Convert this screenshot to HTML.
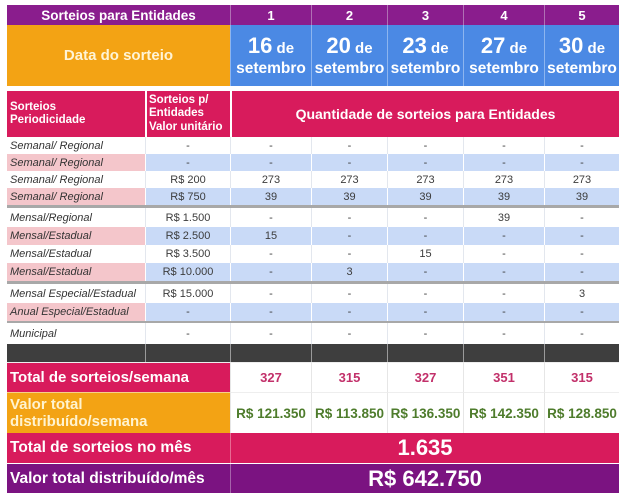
<!DOCTYPE html>
<html><head><meta charset="utf-8">
<style>
body{margin:0;width:640px;height:498px;background:#fff;position:relative;overflow:hidden;font-family:"Liberation Sans",sans-serif}
.r{position:absolute;left:0;width:640px}
.r>div{position:absolute;top:0;height:100%;display:flex;align-items:center;justify-content:center;box-sizing:border-box;white-space:nowrap}
.c1{left:7px;width:138px}
.c2{left:145px;width:85px}
.c3{left:230px;width:81px}
.c4{left:311px;width:76px}
.c5{left:387px;width:76px}
.c6{left:463px;width:81px}
.c7{left:544px;width:75px}
.c12{left:7px;width:223px}
.c37{left:230px;width:389px}
.h1>div{background:#8a1d8d;color:#fff;font-weight:bold;font-size:13px;border-left:1px solid #b070b4}
.h1>.c12{font-size:13.5px;border-left:none}
.h2>div{background:#4b89e4;color:#fff;font-weight:bold;flex-direction:column;border-left:1px solid #8db5ef}
.h2>.c12{background:#f3a314;color:#fff4d6;font-size:15px;border-left:none}
.h2 .a{font-size:15px;line-height:26px;height:26px}
.h2 .a b{font-size:22px}
.h2 .s{font-size:15.5px;line-height:20px}
.h3>div{background:#d81b5c;color:#fff;font-weight:bold;border-left:2px solid #fff}
.h3>.c1{border-left:none;justify-content:flex-start;padding-left:3px;font-size:11.5px;line-height:13px}
.h3>.c2{justify-content:flex-start;padding-left:2px;font-size:11.5px;line-height:13.5px}
.h3>.c37{font-size:14px}
.d>div{font-size:11px;color:#3c3c3c;border-left:1px solid #e3e7ee}
.d>.c1{justify-content:flex-start;padding-left:3px;font-style:italic;border-left:none;color:#333}
.b>div{background:#c9daf7;border-left:1px solid #fff}
.b>.c1{background:#f4c6cb}
.m{color:#777;font-size:10px}
.sep{position:absolute;left:7px;width:612px;height:3px;background:#a8a8a8}
.dk>div{background:#3e3e3e;border-left:1px solid #9a9a9a}
.dk>.c1{border-left:none}
.t>div{font-weight:bold;border-left:1px solid #e6e6e6;background:#fff}
.t>.c12{justify-content:flex-start;padding-left:3px;color:#fff;font-size:15px;border-left:none}
.tot>div{color:#c2306a;font-size:13px;border-top:1px solid #eee}
.tot>.c12{background:#d81b5c;color:#fff}
.val>div{color:#4e7c2c;font-size:13.5px;border-top:1px solid #eee}
.val>.c12{background:#f3a314;color:#fff3cf;line-height:17px;border-top:1px solid #f7d08a}
.big>div{color:#fff;font-weight:bold}
.big>.c12{justify-content:flex-start;padding-left:3px;font-size:15.5px}
</style></head><body>

<div class="r h1" style="top:5px;height:20px">
<div class="c12">Sorteios para Entidades</div>
<div class="c3">1</div><div class="c4">2</div><div class="c5">3</div><div class="c6">4</div><div class="c7">5</div>
</div>

<div class="r h2" style="top:25px;height:61px">
<div class="c12">Data do sorteio</div>
<div class="c3"><span class="a"><b>16</b> de</span><span class="s">setembro</span></div>
<div class="c4"><span class="a"><b>20</b> de</span><span class="s">setembro</span></div>
<div class="c5"><span class="a"><b>23</b> de</span><span class="s">setembro</span></div>
<div class="c6"><span class="a"><b>27</b> de</span><span class="s">setembro</span></div>
<div class="c7"><span class="a"><b>30</b> de</span><span class="s">setembro</span></div>
</div>

<div class="r h3" style="top:91px;height:46px">
<div class="c1">Sorteios<br>Periodicidade</div>
<div class="c2">Sorteios p/<br>Entidades<br>Valor unitário</div>
<div class="c37">Quantidade de sorteios para Entidades</div>
</div>

<div class="r d" style="top:137px;height:17px">
<div class="c1">Semanal/ Regional</div><div class="c2 m">-</div>
<div class="c3 m">-</div><div class="c4 m">-</div><div class="c5 m">-</div><div class="c6 m">-</div><div class="c7 m">-</div>
</div>
<div class="r d b" style="top:154px;height:17px">
<div class="c1">Semanal/ Regional</div><div class="c2 m">-</div>
<div class="c3 m">-</div><div class="c4 m">-</div><div class="c5 m">-</div><div class="c6 m">-</div><div class="c7 m">-</div>
</div>
<div class="r d" style="top:171px;height:17px">
<div class="c1">Semanal/ Regional</div><div class="c2">R$ 200</div>
<div class="c3">273</div><div class="c4">273</div><div class="c5">273</div><div class="c6">273</div><div class="c7">273</div>
</div>
<div class="r d b" style="top:188px;height:17px">
<div class="c1">Semanal/ Regional</div><div class="c2">R$ 750</div>
<div class="c3">39</div><div class="c4">39</div><div class="c5">39</div><div class="c6">39</div><div class="c7">39</div>
</div>
<div class="sep" style="top:205px"></div>
<div class="r d" style="top:208px;height:19px">
<div class="c1">Mensal/Regional</div><div class="c2">R$ 1.500</div>
<div class="c3 m">-</div><div class="c4 m">-</div><div class="c5 m">-</div><div class="c6">39</div><div class="c7 m">-</div>
</div>
<div class="r d b" style="top:227px;height:18px">
<div class="c1">Mensal/Estadual</div><div class="c2">R$ 2.500</div>
<div class="c3">15</div><div class="c4 m">-</div><div class="c5 m">-</div><div class="c6 m">-</div><div class="c7 m">-</div>
</div>
<div class="r d" style="top:245px;height:18px">
<div class="c1">Mensal/Estadual</div><div class="c2">R$ 3.500</div>
<div class="c3 m">-</div><div class="c4 m">-</div><div class="c5">15</div><div class="c6 m">-</div><div class="c7 m">-</div>
</div>
<div class="r d b" style="top:263px;height:18px">
<div class="c1">Mensal/Estadual</div><div class="c2">R$ 10.000</div>
<div class="c3 m">-</div><div class="c4">3</div><div class="c5 m">-</div><div class="c6 m">-</div><div class="c7 m">-</div>
</div>
<div class="sep" style="top:281px"></div>
<div class="r d" style="top:284px;height:19px">
<div class="c1">Mensal Especial/Estadual</div><div class="c2">R$ 15.000</div>
<div class="c3 m">-</div><div class="c4 m">-</div><div class="c5 m">-</div><div class="c6 m">-</div><div class="c7">3</div>
</div>
<div class="r d b" style="top:303px;height:18px">
<div class="c1">Anual Especial/Estadual</div><div class="c2 m">-</div>
<div class="c3 m">-</div><div class="c4 m">-</div><div class="c5 m">-</div><div class="c6 m">-</div><div class="c7 m">-</div>
</div>
<div class="sep" style="top:321px;height:2px"></div>
<div class="r d" style="top:323px;height:21px">
<div class="c1">Municipal</div><div class="c2 m">-</div>
<div class="c3 m">-</div><div class="c4 m">-</div><div class="c5 m">-</div><div class="c6 m">-</div><div class="c7 m">-</div>
</div>
<div class="r dk" style="top:344px;height:18px">
<div class="c1"></div><div class="c2"></div><div class="c3"></div><div class="c4"></div><div class="c5"></div><div class="c6"></div><div class="c7"></div>
</div>

<div class="r t tot" style="top:362px;height:30px">
<div class="c12">Total de sorteios/semana</div>
<div class="c3">327</div><div class="c4">315</div><div class="c5">327</div><div class="c6">351</div><div class="c7">315</div>
</div>
<div class="r t val" style="top:392px;height:41px">
<div class="c12">Valor total<br>distribuído/semana</div>
<div class="c3">R$ 121.350</div><div class="c4">R$ 113.850</div><div class="c5">R$ 136.350</div><div class="c6">R$ 142.350</div><div class="c7">R$ 128.850</div>
</div>
<div class="r big" style="top:433px;height:30px;">
<div class="c12" style="background:#d81b5c">Total de sorteios no mês</div>
<div class="c37" style="background:#d81b5c;border-left:1px solid #e86a92;font-size:22px">1.635</div>
</div>
<div class="r big" style="top:464px;height:29px">
<div class="c12" style="background:#7b1381">Valor total distribuído/mês</div>
<div class="c37" style="background:#7b1381;border-left:1px solid #a663ab;font-size:22px">R$ 642.750</div>
</div>
</body></html>
